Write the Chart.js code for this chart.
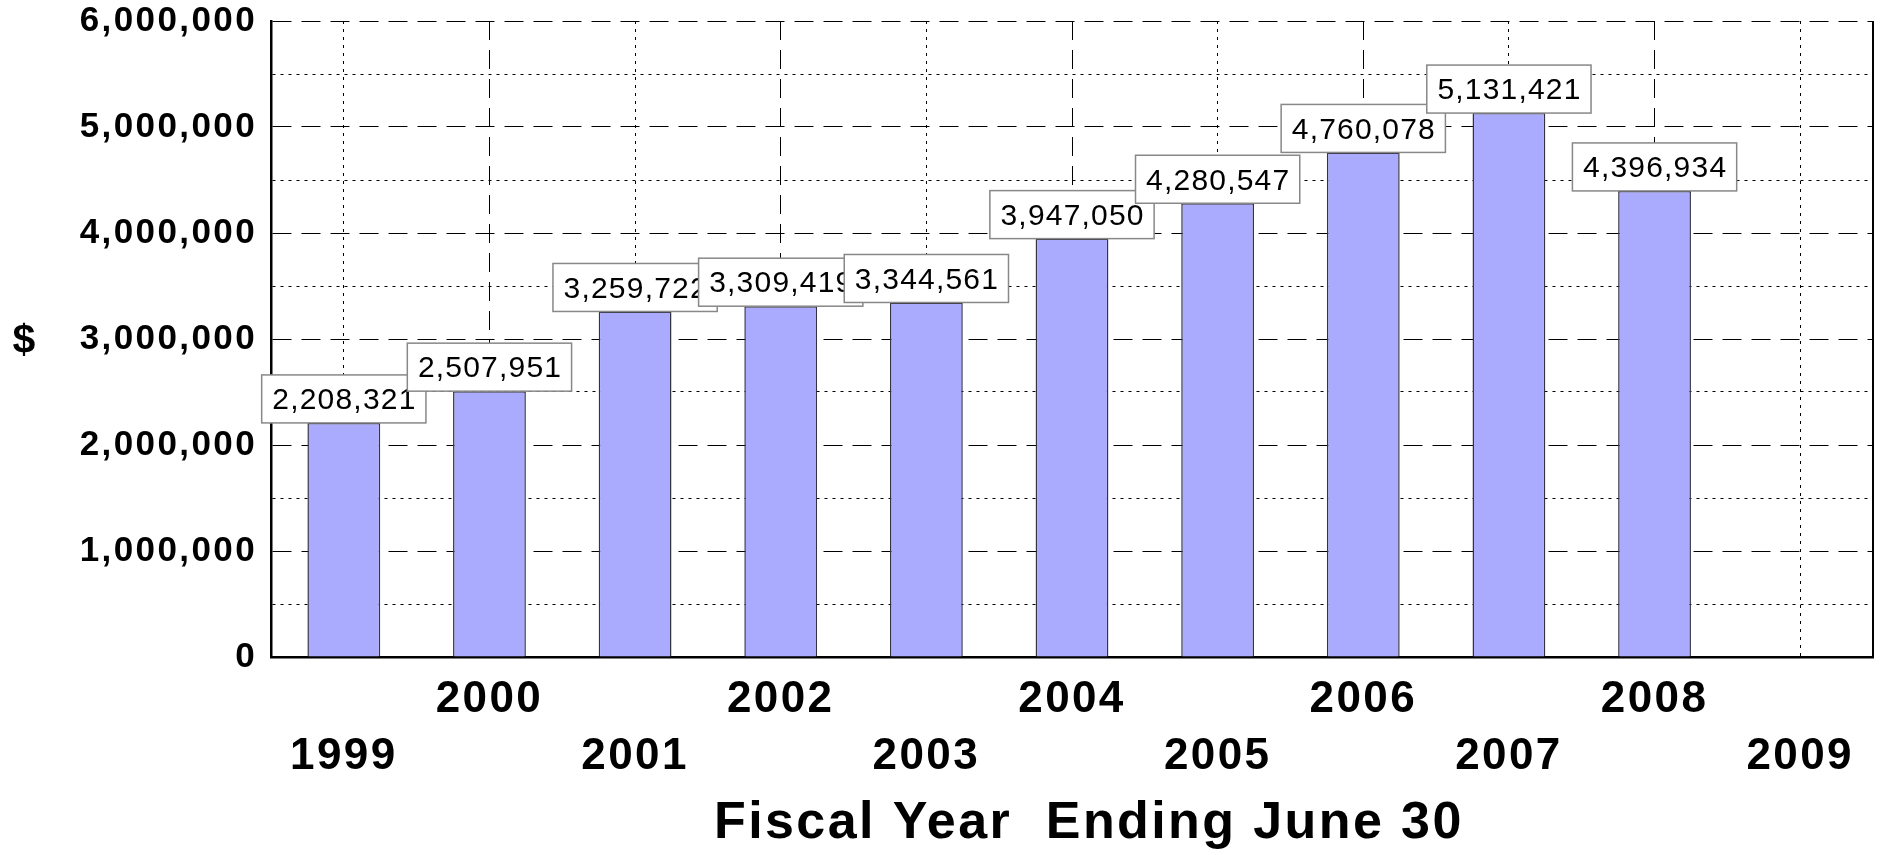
<!DOCTYPE html>
<html>
<head>
<meta charset="utf-8">
<script src="https://cdn.jsdelivr.net/npm/chart.js@4"></script>
<style>
  body { margin: 0; background: #fff; }
  #wrap { width: 1881px; height: 855px; }
</style>
</head>
<body>
<div id="wrap"><canvas id="fundChart" width="1881" height="855"></canvas></div>
<script>
var years = ['1999', '2000', '2001', '2002', '2003', '2004', '2005', '2006', '2007', '2008', '2009']
var amounts = [2208321, 2507951, 3259722, 3309419, 3344561, 3947050, 4280547, 4760078, 5131421, 4396934, null]
var yTicks = [0, 1000000, 2000000, 3000000, 4000000, 5000000, 6000000]
var xTitle = '  Fiscal Year  Ending June 30'
var yTitle = '$'

var FONT = '"Liberation Sans", Arial, sans-serif'
var LONG_DASH = [19, 10]
var DOTS = [3, 5]

// staggered year labels: even years on the upper row, odd years below
var staggered = years.map(function (y, i) {
    return i % 2 ? [y, ''] : ['', y]
})

var boxLabels = {
    id: 'boxLabels',
    beforeDraw: function (chart) {
        chart.ctx.letterSpacing = '2.4px'
    },
    afterDatasetsDraw: function (chart) {
        var ctx = chart.ctx
        var area = chart.chartArea
        ctx.save()
        // right frame line
        ctx.strokeStyle = '#000'
        ctx.lineWidth = 2
        ctx.beginPath()
        ctx.moveTo(area.right, area.top)
        ctx.lineTo(area.right, area.bottom + 1)
        ctx.stroke()

        // "$" beside the y axis, upright
        ctx.fillStyle = '#000'
        ctx.font = 'bold 41px ' + FONT
        ctx.letterSpacing = '0px'
        ctx.textAlign = 'center'
        ctx.textBaseline = 'middle'
        ctx.fillText(yTitle, 24, (area.top + area.bottom) / 2 + 3)

        // value boxes, drawn in order so later ones sit on top
        ctx.font = '30px ' + FONT
        ctx.letterSpacing = '1.2px'
        var meta = chart.getDatasetMeta(0)
        meta.data.forEach(function (bar, i) {
            var v = amounts[i]
            if (v == null) return
            var txt = v.toLocaleString('en-US')
            var w = ctx.measureText(txt).width + 20
            var h = 48
            var x0 = bar.x - w / 2
            var y0 = bar.y - h
            ctx.fillStyle = '#fff'
            ctx.fillRect(x0, y0, w, h)
            ctx.strokeStyle = '#888'
            ctx.lineWidth = 1.5
            ctx.strokeRect(x0, y0, w, h)
            ctx.fillStyle = '#000'
            ctx.fillText(txt, bar.x + 0.6, y0 + h / 2 + 2)
        })
        ctx.restore()
    }
}

var ctx = document.getElementById('fundChart')
if (ctx) {
    var chart = new Chart(ctx, {
        type: 'bar',
        data: {
            labels: staggered,
            datasets: [{
                label: 'Amount',
                backgroundColor: '#aaaaff',
                borderColor: '#333344',
                borderWidth: 1.5,
                borderSkipped: 'bottom',
                categoryPercentage: 1,
                barPercentage: 0.5,
                data: amounts
            }]
        },
        plugins: [boxLabels],
        options: {
            responsive: false,
            animation: false,
            devicePixelRatio: 1,
            layout: { padding: { left: 0, top: 21, right: 8, bottom: 0 } },
            plugins: {
                legend: { display: false },
                tooltip: { enabled: false }
            },
            scales: {
                x: {
                    offset: true,
                    grid: {
                        offset: false,
                        color: '#000',
                        lineWidth: 1,
                        drawTicks: false
                    },
                    border: {
                        display: true,
                        color: '#000',
                        width: 2.5,
                        dash: function (c) {
                            if (c.index === undefined) return []
                            return c.index % 2 ? LONG_DASH : DOTS
                        }
                    },
                    ticks: {
                        autoSkip: false,
                        maxRotation: 0,
                        color: '#000',
                        padding: 15,
                        font: { family: FONT, size: 44, weight: 'bold', lineHeight: 1.284 }
                    },
                    title: {
                        display: true,
                        text: xTitle,
                        color: '#000',
                        padding: { top: 0, bottom: 0 },
                        font: { family: FONT, size: 52, weight: 'bold', lineHeight: 1.2 }
                    },
                    afterFit: function (scale) {
                        scale.height = 198
                        scale.paddingLeft = 0
                        scale.paddingRight = 0
                    }
                },
                y: {
                    min: 0,
                    max: 6000000,
                    grid: {
                        color: '#000',
                        lineWidth: 1,
                        drawTicks: false
                    },
                    border: {
                        display: true,
                        color: '#000',
                        width: 2.5,
                        dash: function (c) {
                            if (!c.tick) return []
                            return c.tick.value % 1000000 === 0 ? LONG_DASH : DOTS
                        }
                    },
                    ticks: {
                        stepSize: 500000,
                        color: '#000',
                        padding: 14,
                        font: { family: FONT, size: 35, weight: 'bold' },
                        callback: function (v) {
                            return yTicks.indexOf(v) >= 0 ? v.toLocaleString('en-US') : ''
                        }
                    },
                    afterFit: function (scale) {
                        scale.width = 271
                        scale.paddingTop = 0
                        scale.paddingBottom = 0
                    }
                }
            }
        }
    })
}
</script>
</body>
</html>
